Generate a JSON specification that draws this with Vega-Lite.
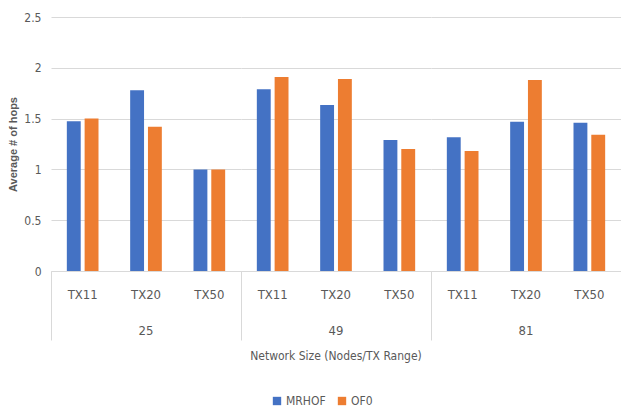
{
  "$schema": "https://vega.github.io/schema/vega-lite/v6.json",
  "padding": {"left": 7, "top": 11, "right": 0, "bottom": 3},
  "background": "white",
  "data": {"values": [
    {"size": "25", "tx": "TX11", "series": "MRHOF", "value": 1.475},
    {"size": "25", "tx": "TX11", "series": "OF0", "value": 1.50},
    {"size": "25", "tx": "TX20", "series": "MRHOF", "value": 1.78},
    {"size": "25", "tx": "TX20", "series": "OF0", "value": 1.42},
    {"size": "25", "tx": "TX50", "series": "MRHOF", "value": 1.0},
    {"size": "25", "tx": "TX50", "series": "OF0", "value": 1.0},
    {"size": "49", "tx": "TX11", "series": "MRHOF", "value": 1.79},
    {"size": "49", "tx": "TX11", "series": "OF0", "value": 1.91},
    {"size": "49", "tx": "TX20", "series": "MRHOF", "value": 1.635},
    {"size": "49", "tx": "TX20", "series": "OF0", "value": 1.89},
    {"size": "49", "tx": "TX50", "series": "MRHOF", "value": 1.29},
    {"size": "49", "tx": "TX50", "series": "OF0", "value": 1.20},
    {"size": "81", "tx": "TX11", "series": "MRHOF", "value": 1.317},
    {"size": "81", "tx": "TX11", "series": "OF0", "value": 1.18},
    {"size": "81", "tx": "TX20", "series": "MRHOF", "value": 1.47},
    {"size": "81", "tx": "TX20", "series": "OF0", "value": 1.88},
    {"size": "81", "tx": "TX50", "series": "MRHOF", "value": 1.46},
    {"size": "81", "tx": "TX50", "series": "OF0", "value": 1.34}
  ]},
  "facet": {
    "column": {
      "field": "size", "type": "ordinal",
      "title": "Network Size (Nodes/TX Range)",
      "header": {
        "labelOrient": "bottom", "titleOrient": "bottom",
        "labelPadding": -16, "titlePadding": 0,
        "labelFontSize": 13, "labelColor": "#595959", "labelFont": "'DejaVu Sans Condensed', 'Liberation Sans Narrow', 'Liberation Sans', sans-serif",
        "titleFontSize": 12, "titleColor": "#595959", "titleFont": "'DejaVu Sans Condensed', 'Liberation Sans Narrow', 'Liberation Sans', sans-serif", "titleFontWeight": "normal"
      }
    }
  },
  "spacing": 0,
  "spec": {
    "width": 190,
    "height": 254,
    "mark": {"type": "bar"},
    "encoding": {
      "x": {
        "field": "tx", "type": "nominal", "title": null,
        "scale": {"paddingInner": 0, "paddingOuter": 0},
        "axis": {
          "labelAngle": 0, "labelFontSize": 13, "labelColor": "#595959", "labelFont": "'DejaVu Sans Condensed', 'Liberation Sans Narrow', 'Liberation Sans', sans-serif",
          "domainColor": "#d9d9d9", "ticks": true, "tickSize": 69, "bandPosition": 0,
          "tickColor": {"condition": {"test": "datum.value === 'TX11'", "value": "#d9d9d9"}, "value": "transparent"},
          "labelPadding": -52
        }
      },
      "xOffset": {
        "field": "series", "type": "nominal",
        "scale": {"paddingInner": 0.22, "paddingOuter": 0.89}
      },
      "y": {
        "field": "value", "type": "quantitative",
        "title": "Average # of hops",
        "scale": {"domain": [0, 2.5]},
        "axis": {
          "values": [0, 0.5, 1, 1.5, 2, 2.5], "format": "~g",
          "domain": false, "ticks": false, "labelPadding": 10,
          "labelFontSize": 12, "labelColor": "#595959", "labelFont": "'DejaVu Sans Condensed', 'Liberation Sans Narrow', 'Liberation Sans', sans-serif",
          "gridColor": "#d9d9d9",
          "titleFontSize": 11, "titleColor": "#595959", "titleFont": "Liberation Sans", "titleFontWeight": "bold", "titlePadding": 5
        }
      },
      "color": {
        "field": "series", "type": "nominal",
        "scale": {"domain": ["MRHOF", "OF0"], "range": ["#4472C4", "#ED7D31"]},
        "legend": {"orient": "none", "legendX": 220, "legendY": 378, "direction": "horizontal", "title": null, "symbolType": "square", "symbolSize": 70, "labelFontSize": 12, "labelColor": "#595959", "labelFont": "'DejaVu Sans Condensed', 'Liberation Sans Narrow', 'Liberation Sans', sans-serif", "columnPadding": 10, "symbolStrokeWidth": 0, "labelOffset": 3}
      }
    }
  },
  "config": {"view": {"stroke": null}}
}
